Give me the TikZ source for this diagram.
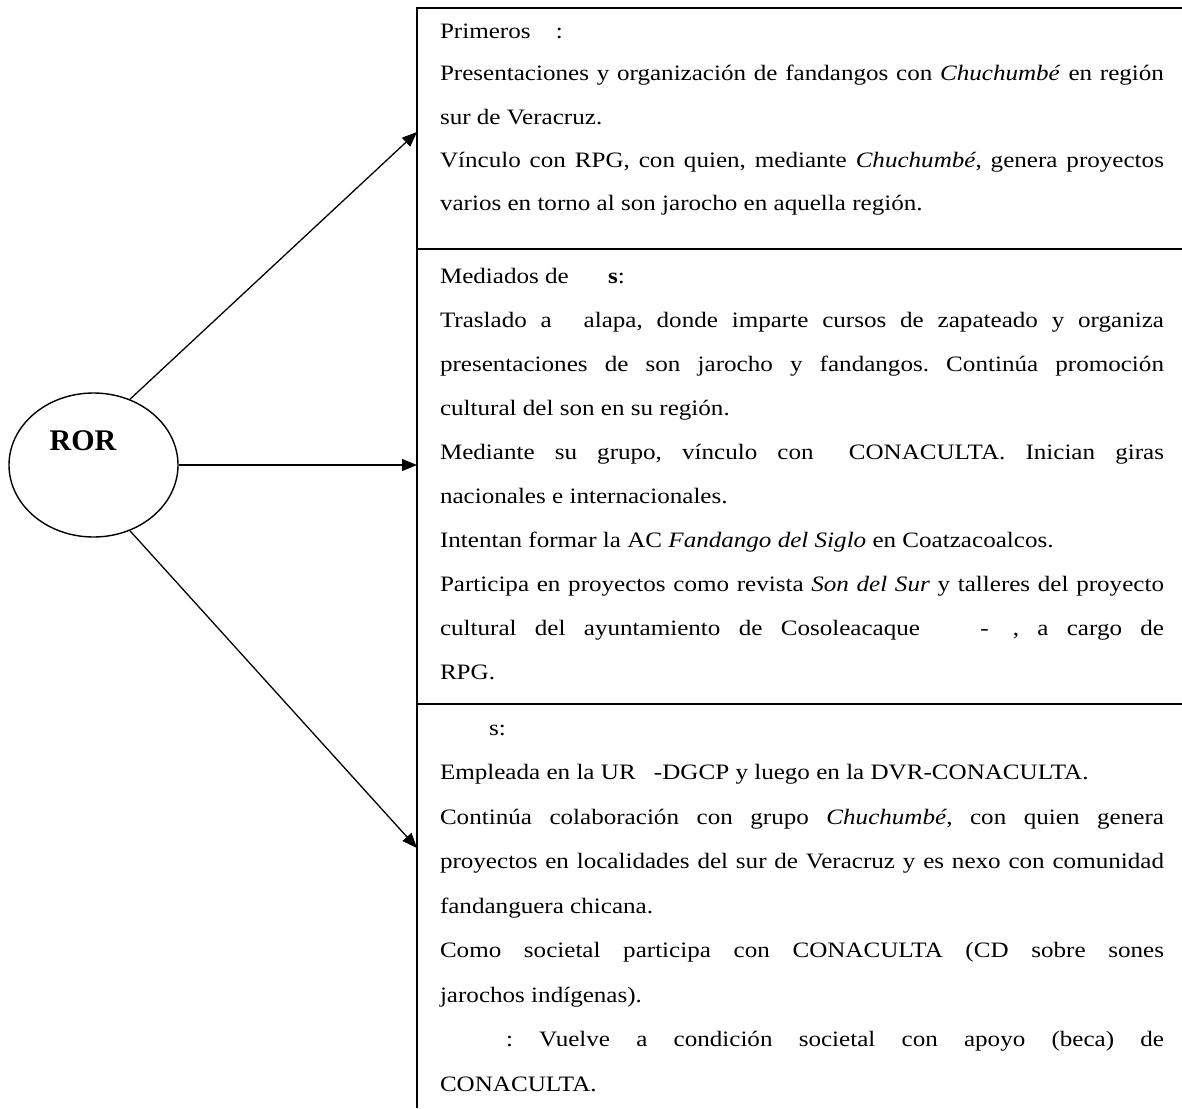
\documentclass[tikz,border=0pt]{standalone}
\usepackage{fontspec}
\setmainfont[FakeStretch=1.14]{Liberation Serif}
\newfontfamily\rorfont{Liberation Serif}
\usetikzlibrary{arrows.meta,shapes.geometric}
\newcommand\jl[1]{\makebox[724pt][s]{#1}}
\tikzset{
  txt/.style={anchor=base west, inner sep=0pt, outer sep=0pt, font=\fontsize{22}{26}\selectfont\frenchspacing},
  conn/.style={line width=1.3pt, -{Triangle[length=15pt,width=12pt]}},
  frame/.style={line width=2pt},
  rorshape/.style={ellipse, draw, line width=1.4pt, minimum width=169pt, minimum height=144pt, inner sep=0pt},
}
\begin{document}
\begin{tikzpicture}[x=1pt,y=-1pt]
\useasboundingbox (0,0) rectangle (1182,1108);
% frame
\draw[frame] (1182,8) -- (417,8) -- (417,1108);
\draw[frame] (417,249) -- (1182,249);
\draw[frame] (417,704) -- (1182,704);
% ROR
\node[rorshape] (ror) at (93.5,465) {};
\node[anchor=base, inner sep=0pt, font=\rorfont\fontsize{30}{30}\selectfont\bfseries] (rorlabel) at (83,450) {ROR};
% arrow targets
\coordinate (e1) at (417,132);
\coordinate (e2) at (417,465);
\coordinate (e3) at (417,848);
\draw[conn] (ror.61) -- (e1);
\draw[conn] (ror.east) -- (e2);
\draw[conn] (ror.-61) -- (e3);
% section 1
\node[txt] (s1a) at (440,38) {Primeros\hspace{19pt} :};
\node[txt] (s1b) at (440,81) {\jl{Presentaciones y organización de fandangos con \textit{Chuchumbé} en región}};
\node[txt] (s1c) at (440,124) {sur de Veracruz.};
\node[txt] (s1d) at (440,167) {\jl{Vínculo con RPG, con quien, mediante \textit{Chuchumbé}, genera proyectos}};
\node[txt] (s1e) at (440,210) {varios en torno al son jarocho en aquella región.};
% section 2
\node[txt] (s2a) at (440,283) {Mediados de\hspace{33pt} \textbf{s}:};
\node[txt] (s2b) at (440,327) {\jl{Traslado a\hspace{18pt} alapa, donde imparte cursos de zapateado y organiza}};
\node[txt] (s2c) at (440,371) {\jl{presentaciones de son jarocho y fandangos. Continúa promoción}};
\node[txt] (s2d) at (440,415) {cultural del son en su región.};
\node[txt] (s2e) at (440,459) {\jl{Mediante su grupo, vínculo con\hspace{15pt} CONACULTA. Inician giras}};
\node[txt] (s2f) at (440,503) {nacionales e internacionales.};
\node[txt] (s2g) at (440,547) {Intentan formar la AC \textit{Fandango del Siglo} en Coatzacoalcos.};
\node[txt] (s2h) at (440,591) {\jl{Participa en proyectos como revista \textit{Son del Sur} y talleres del proyecto}};
\node[txt] (s2i) at (440,635) {\jl{cultural del ayuntamiento de Cosoleacaque\hspace{42pt} -\hspace{24pt}, a cargo de}};
\node[txt] (s2j) at (440,679) {RPG.};
% section 3
\node[txt] (s3a) at (440,735) {\hspace*{49pt}s:};
\node[txt] (s3b) at (440,779.5) {Empleada en la UR\hspace{12pt} -DGCP y luego en la DVR-CONACULTA.};
\node[txt] (s3c) at (440,824) {\jl{Continúa colaboración con grupo \textit{Chuchumbé}, con quien genera}};
\node[txt] (s3d) at (440,868.5) {\jl{proyectos en localidades del sur de Veracruz y es nexo con comunidad}};
\node[txt] (s3e) at (440,913) {fandanguera chicana.};
\node[txt] (s3f) at (440,957.5) {\jl{Como societal participa con CONACULTA (CD sobre sones}};
\node[txt] (s3g) at (440,1002) {jarochos indígenas).};
\node[txt] (s3h) at (440,1046.5) {\jl{\hspace*{66pt}: Vuelve a condición societal con apoyo (beca) de}};
\node[txt] (s3i) at (440,1091) {CONACULTA.};
\end{tikzpicture}
\end{document}
